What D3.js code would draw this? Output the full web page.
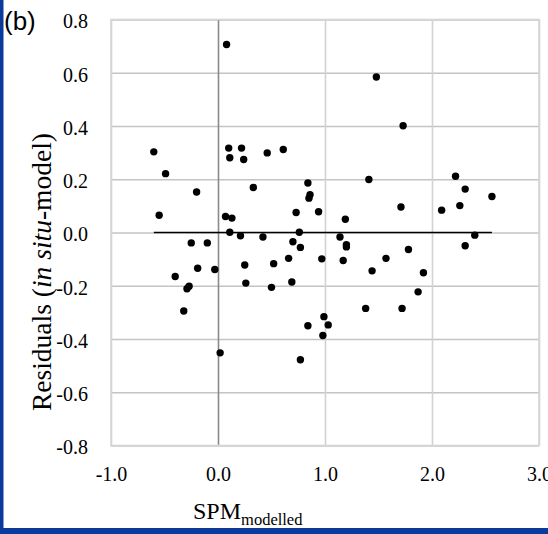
<!DOCTYPE html>
<html>
<head>
<meta charset="utf-8">
<script src="https://cdn.jsdelivr.net/npm/d3@7"></script>
<style>
  html, body { margin: 0; padding: 0; background: #ffffff; }
  svg { display: block; }
</style>
</head>
<body>
<div id="scatter"></div>
<script>
// SPM modelled (x) and residuals in situ - model (y)
let spmModelled = [
  0.08, -0.60, -0.49, -0.20, -0.55, 0.10, 0.22, 0.11, 0.24, 0.46,
  0.61, 0.33, 0.84, 0.86, 0.85, 0.73, 0.94, 0.07, 0.13, 0.11,
  0.21, 0.42, 0.76, 1.48, 1.73, 1.41, 1.19, 1.71, 2.22, 2.31,
  2.56, 2.09, 2.26, 1.14, 2.40, -0.25, -0.10, -0.19, -0.03, -0.40,
  -0.27, -0.29, -0.32, 0.02, 0.25, 0.26, 0.52, 0.50, 0.66, 0.69,
  0.70, 0.77, 0.97, 0.77, 0.99, 1.03, 0.98, 0.84, 1.20, 1.20,
  1.17, 1.44, 1.57, 1.78, 1.92, 1.87, 1.38, 1.72, 2.31
];
let residuals = [
  0.706, 0.303, 0.221, 0.152, 0.065, 0.317, 0.317, 0.281, 0.274, 0.299,
  0.312, 0.169, 0.186, 0.142, 0.129, 0.075, 0.078, 0.060, 0.054, 0.001,
  -0.012, -0.017, 0.001, 0.584, 0.401, 0.199, 0.050, 0.096, 0.211, 0.163,
  0.135, 0.084, 0.101, -0.017, -0.010, -0.039, -0.039, -0.134, -0.139, -0.165,
  -0.202, -0.211, -0.295, -0.452, -0.122, -0.190, -0.117, -0.206, -0.097, -0.186,
  -0.035, -0.056, -0.099, -0.478, -0.316, -0.347, -0.387, -0.350, -0.046, -0.054,
  -0.105, -0.144, -0.097, -0.064, -0.151, -0.223, -0.285, -0.285, -0.050
];

// tick values and their labels
let xTicks = [-1, 0, 1, 2, 3];
let xTickLabels = ["-1.0", "0.0", "1.0", "2.0", "3.0"];
let yTicks = [-0.8, -0.6, -0.4, -0.2, 0, 0.2, 0.4, 0.6, 0.8];
let yTickLabels = ["-0.8", "-0.6", "-0.4", "-0.2", "0.0", "0.2", "0.4", "0.6", "0.8"];

let svgWidth = 548;
let svgHeight = 534;

let margin = { top: 19.5, right: 9, bottom: 88.5, left: 111 };
let width = svgWidth - margin.left - margin.right;
let height = svgHeight - margin.top - margin.bottom;

let svg = d3.select("#scatter")
  .append("svg")
  .attr("width", svgWidth)
  .attr("height", svgHeight);

// blue slide frame (left and bottom edges)
svg.append("rect")
  .attr("x", 0).attr("y", 0)
  .attr("width", 3.5).attr("height", svgHeight)
  .attr("fill", "#0a3a9c");
svg.append("rect")
  .attr("x", 0).attr("y", 528)
  .attr("width", svgWidth).attr("height", svgHeight - 528)
  .attr("fill", "#0a3a9c");

let chartGroup = svg.append("g")
  .attr("transform", `translate(${margin.left}, ${margin.top})`);

let xScale = d3.scaleLinear().domain([-1, 3]).range([0, width]);
let yScale = d3.scaleLinear().domain([-0.8, 0.8]).range([height, 0]);

// gridlines
chartGroup.append("g")
  .attr("class", "grid")
  .call(d3.axisLeft(yScale).tickValues(yTicks).tickSize(-width).tickFormat(""))
  .call(g => g.select(".domain").remove())
  .call(g => g.selectAll("line").attr("stroke", "#c4c4c4").attr("stroke-width", 1.3));

chartGroup.append("g")
  .attr("class", "grid")
  .attr("transform", `translate(0, ${height})`)
  .call(d3.axisBottom(xScale).tickValues(xTicks).tickSize(-height).tickFormat(""))
  .call(g => g.select(".domain").remove())
  .call(g => g.selectAll("line")
    .attr("stroke", d => d === 0 ? "#8a8a8a" : "#d2d2d2")
    .attr("stroke-width", 1.6));

// plot border
chartGroup.append("rect")
  .attr("width", width)
  .attr("height", height)
  .attr("fill", "none")
  .attr("stroke", "#d6d6d6")
  .attr("stroke-width", 1.6);

// zero line across the range of the data
let xExtent = d3.extent(spmModelled);
chartGroup.append("line")
  .attr("x1", xScale(xExtent[0]))
  .attr("x2", xScale(xExtent[1]))
  .attr("y1", yScale(0))
  .attr("y2", yScale(0))
  .attr("stroke", "#000000")
  .attr("stroke-width", 1.3);

// points
let points = spmModelled.map((x, i) => ({ x: x, y: residuals[i] }));
chartGroup.append("g")
  .selectAll("circle")
  .data(points)
  .enter()
  .append("circle")
    .attr("cx", d => xScale(d.x))
    .attr("cy", d => yScale(d.y))
    .attr("r", 3.7)
    .attr("fill", "#000000");

// tick labels
let yAxis = chartGroup.append("g")
  .call(d3.axisLeft(yScale).tickValues(yTicks).tickSize(0).tickPadding(23)
    .tickFormat((d, i) => yTickLabels[i]));
yAxis.select(".domain").remove();
yAxis.selectAll("text")
  .attr("font-family", "'Liberation Serif', 'Times New Roman', serif")
  .attr("font-size", 20)
  .attr("dy", "0.42em")
  .attr("fill", "#000");

let xAxis = chartGroup.append("g")
  .attr("transform", `translate(0, ${height})`)
  .call(d3.axisBottom(xScale).tickValues(xTicks).tickSize(0).tickPadding(21)
    .tickFormat((d, i) => xTickLabels[i]));
xAxis.select(".domain").remove();
xAxis.selectAll("text")
  .attr("font-family", "'Liberation Serif', 'Times New Roman', serif")
  .attr("font-size", 20)
  .attr("dy", "0.71em")
  .attr("fill", "#000");

// x axis title with subscript
let xTitle = svg.append("text")
  .attr("x", 193)
  .attr("y", 519)
  .attr("font-family", "'Liberation Serif', 'Times New Roman', serif")
  .attr("font-size", 24)
  .attr("fill", "#000");
xTitle.append("tspan").text("SPM");
xTitle.append("tspan")
  .attr("font-size", 16.5)
  .attr("dy", 6)
  .text("modelled");

// y axis title, "in situ" in italics
let yTitle = svg.append("text")
  .attr("transform", "translate(51, 272) rotate(-90)")
  .attr("text-anchor", "middle")
  .attr("font-family", "'Liberation Serif', 'Times New Roman', serif")
  .attr("font-size", 27.5)
  .attr("fill", "#000");
yTitle.append("tspan").text("Residuals (");
yTitle.append("tspan").attr("font-style", "italic").text("in situ");
yTitle.append("tspan").text("-model)");

// panel letter
svg.append("text")
  .attr("x", 4)
  .attr("y", 30)
  .attr("font-family", "'Liberation Sans', Arial, sans-serif")
  .attr("font-size", 26)
  .attr("fill", "#000")
  .text("(b)");
</script>
</body>
</html>
